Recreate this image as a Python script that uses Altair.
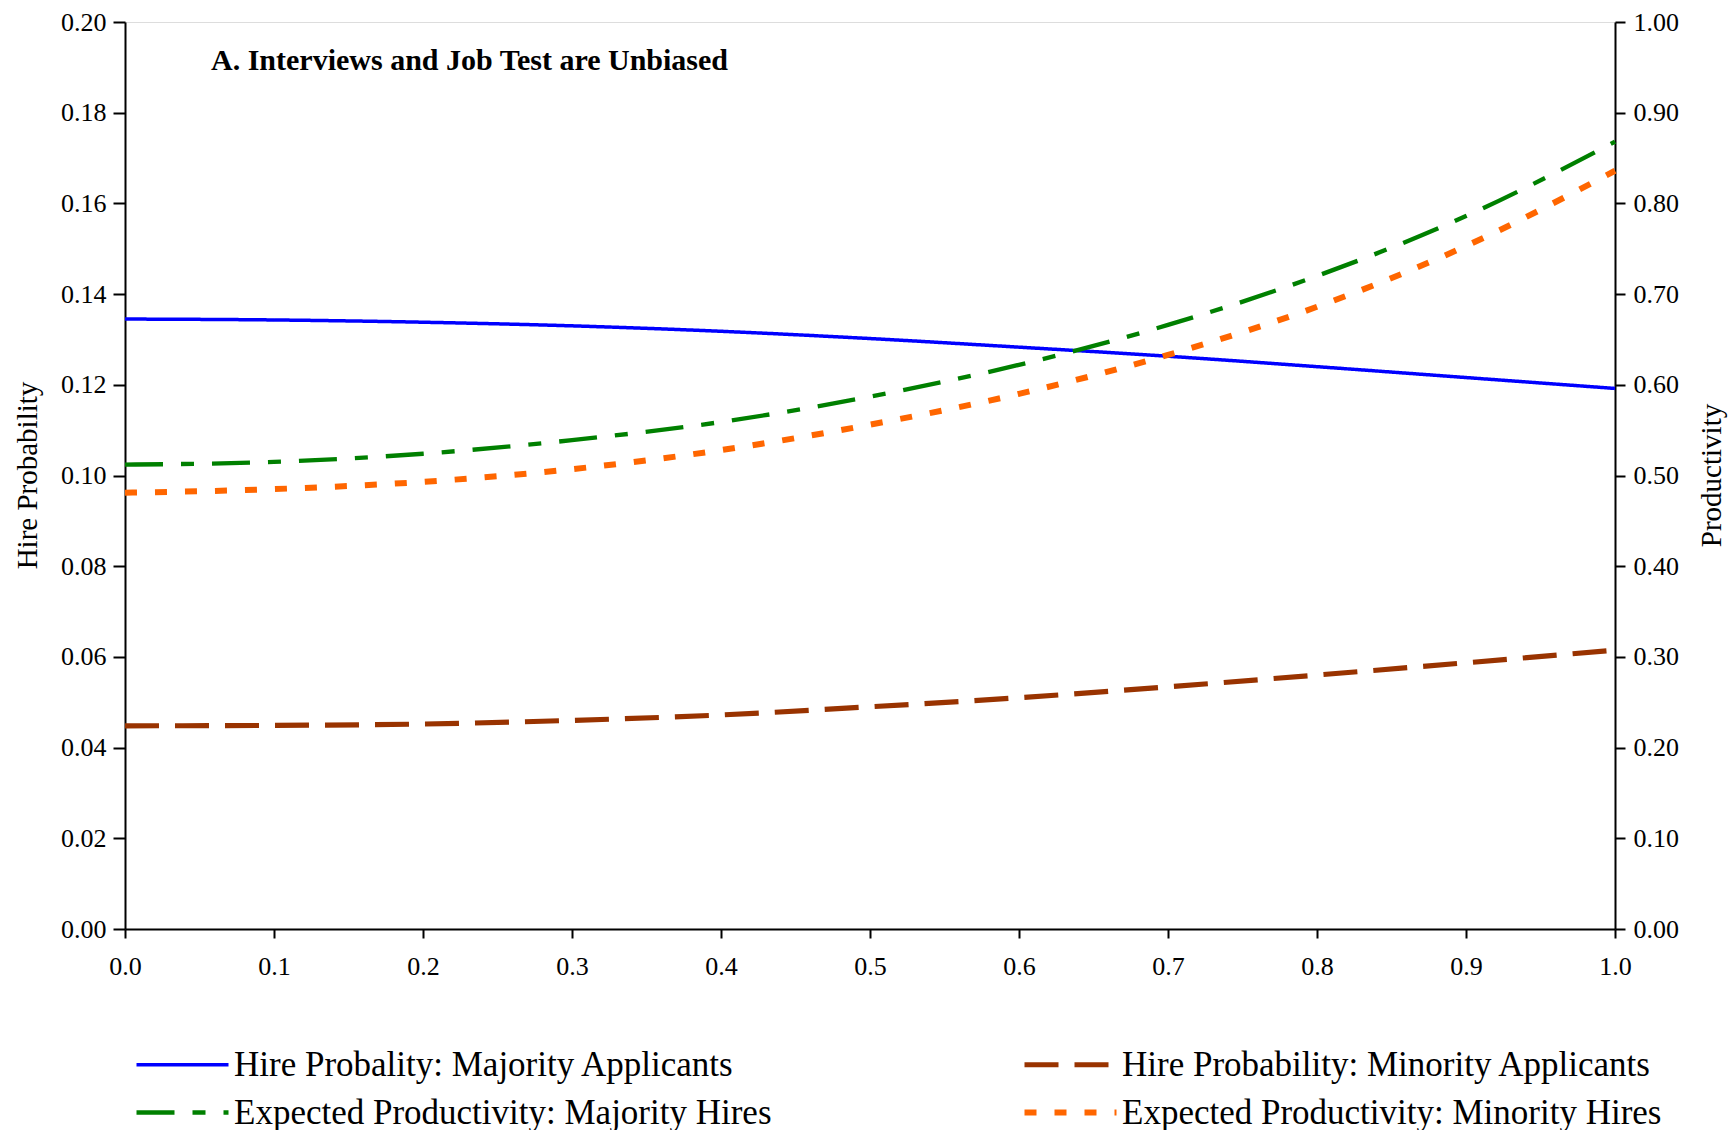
import altair as alt
import pandas as pd

# Share of applicants tested (x) and the four simulated outcomes
ability = [0.0, 0.1, 0.2, 0.3, 0.4, 0.5, 0.6, 0.7, 0.8, 0.9, 1.0]
hire_majority = [0.1345, 0.1343, 0.1338, 0.1330, 0.1318, 0.1302, 0.1283, 0.1263, 0.1240, 0.1216, 0.1192]
hire_minority = [0.0448, 0.0449, 0.0452, 0.0460, 0.0472, 0.0490, 0.0510, 0.0534, 0.0560, 0.0587, 0.0615]
prod_majority = [0.512, 0.515, 0.524, 0.539, 0.559, 0.587, 0.622, 0.666, 0.720, 0.786, 0.868]
prod_minority = [0.481, 0.485, 0.493, 0.507, 0.528, 0.556, 0.590, 0.633, 0.686, 0.753, 0.836]

HIRE_MAJ = "Hire Probality: Majority Applicants"
HIRE_MIN = "Hire Probability: Minority Applicants"
PROD_MAJ = "Expected Productivity: Majority Hires"
PROD_MIN = "Expected Productivity: Minority Hires"

# legend fills column by column: left column majority, right column minority
series = [HIRE_MAJ, PROD_MAJ, HIRE_MIN, PROD_MIN]
colors = ["#0000FF", "#008000", "#993300", "#FF6600"]
dashes = [[1, 0], [38, 18, 13, 18], [34, 16], [12, 18]]
widths = [3.5, 6, 6, 6]

x_ticks = [round(i * 0.1, 1) for i in range(11)]
left_ticks = [round(i * 0.02, 2) for i in range(11)]
right_ticks = [round(i * 0.1, 1) for i in range(11)]

hire_df = pd.DataFrame(
    [{"x": a, "value": v, "series": HIRE_MAJ} for a, v in zip(ability, hire_majority)]
    + [{"x": a, "value": v, "series": HIRE_MIN} for a, v in zip(ability, hire_minority)]
)
prod_df = pd.DataFrame(
    [{"x": a, "value": v, "series": PROD_MAJ} for a, v in zip(ability, prod_majority)]
    + [{"x": a, "value": v, "series": PROD_MIN} for a, v in zip(ability, prod_minority)]
)

FONT = "Liberation Serif"

color_enc = alt.Color(
    "series:N",
    scale=alt.Scale(domain=series, range=colors),
    legend=alt.Legend(
        title=None,
        orient="none",
        legendX=40,
        legendY=1025,
        columns=2,
        columnPadding=240,
        rowPadding=12,
        symbolType="M-4,0H4",
        symbolSize=529,
        symbolStrokeWidth=6,
        labelOffset=34,
        labelFont=FONT,
        labelFontSize=35,
        labelColor="black",
        labelLimit=0,
        padding=0,
    ),
)
dash_enc = alt.StrokeDash("series:N", scale=alt.Scale(domain=series, range=dashes), legend=None)
width_enc = alt.StrokeWidth("series:N", scale=alt.Scale(domain=series, range=widths), legend=None)

x_axis = alt.Axis(
    values=x_ticks, format=".1f", title=None, grid=False, labelFlush=False,
    domainColor="black", domainWidth=2, tickColor="black", tickWidth=2, tickSize=9,
    labelFont=FONT, labelFontSize=26, labelColor="black", labelPadding=15,
)
x_enc = alt.X("x:Q", scale=alt.Scale(domain=[0, 1], nice=False, zero=False), axis=x_axis)

hire = alt.Chart(hire_df).mark_line(interpolate="monotone").encode(
    x=x_enc,
    y=alt.Y(
        "value:Q",
        scale=alt.Scale(domain=[0, 0.2], nice=False),
        axis=alt.Axis(
            orient="left", values=left_ticks, format=".2f", grid=False,
            title="Hire Probability", titleFont=FONT, titleFontSize=29, titleFontWeight="normal",
            titleColor="black", titleAngle=270, titleX=-98, titleY=453,
            titleAlign="center", titleBaseline="middle",
            domainColor="black", domainWidth=2, tickColor="black", tickWidth=2, tickSize=12,
            labelFont=FONT, labelFontSize=26, labelColor="black", labelPadding=7,
        ),
    ),
    color=color_enc,
    strokeDash=dash_enc,
    strokeWidth=width_enc,
)

prod = alt.Chart(prod_df).mark_line(interpolate="monotone").encode(
    x=x_enc,
    y=alt.Y(
        "value:Q",
        scale=alt.Scale(domain=[0, 1], nice=False),
        axis=alt.Axis(
            orient="right", values=right_ticks, format=".2f", grid=False,
            title="Productivity", titleFont=FONT, titleFontSize=29, titleFontWeight="normal",
            titleColor="black", titleAngle=270, titleX=96, titleY=453,
            titleAlign="center", titleBaseline="middle",
            domainColor="black", domainWidth=2, tickColor="black", tickWidth=2, tickSize=10,
            labelFont=FONT, labelFontSize=26, labelColor="black", labelPadding=8,
        ),
    ),
    color=color_enc,
    strokeDash=dash_enc,
    strokeWidth=width_enc,
)

chart = (
    alt.layer(hire, prod)
    .resolve_scale(y="independent")
    .properties(
        width=1490,
        height=907,
        autosize=alt.AutoSizeParams(type="none"),
        padding={"left": 125, "top": 22, "right": 116, "bottom": 201},
        title=alt.TitleParams(
            "A. Interviews and Job Test are Unbiased",
            anchor="start", frame="group", orient="top",
            dx=86, dy=44, offset=-38, baseline="middle",
            font=FONT, fontSize=30, fontWeight="bold", color="black",
        ),
    )
    .configure_view(stroke="#888888", strokeWidth=1)
    .configure(background="white")
)

chart.save("out.html", embed_options={"renderer": "svg", "actions": False})
